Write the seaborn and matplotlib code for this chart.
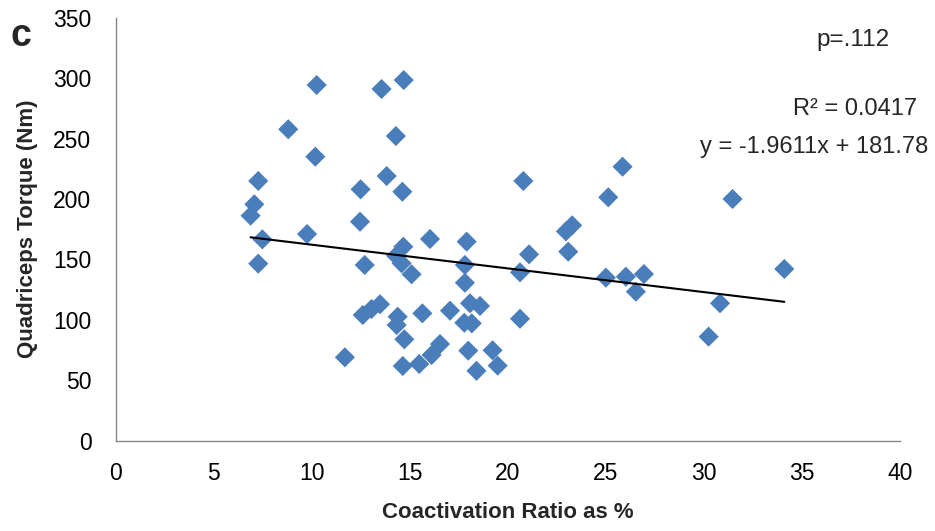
import numpy as np
import pandas as pd
import matplotlib
matplotlib.use("Agg")
import matplotlib.pyplot as plt
import seaborn as sns

# ---- data ----
coactivation = [6.88, 7.07, 7.27, 7.48, 7.27, 8.80, 9.76, 10.18, 10.25, 11.69,
                12.46, 12.49, 12.60, 12.70, 13.05, 13.48, 13.56, 13.82, 14.29, 14.69,
                14.62, 14.67, 14.30, 14.58, 14.38, 14.33, 14.72, 14.64, 15.09, 15.48,
                15.64, 16.03, 16.11, 16.54, 17.05, 17.90, 17.81, 17.81, 17.78, 18.16,
                18.07, 18.58, 17.98, 18.40, 19.22, 19.48, 20.62, 20.62, 20.79, 21.08,
                22.96, 23.28, 23.08, 25.00, 25.12, 25.85, 26.02, 26.53, 26.94, 30.24,
                30.82, 31.46, 34.10]
torque = [186.2, 195.6, 214.9, 166.6, 146.5, 257.7, 171.0, 235.0, 294.3, 69.0,
          181.2, 208.0, 104.0, 145.4, 109.0, 112.9, 291.0, 219.0, 252.1, 298.4,
          206.0, 160.5, 153.0, 146.8, 102.6, 95.7, 83.9, 61.8, 137.7, 63.5,
          105.4, 166.9, 70.9, 80.0, 107.6, 164.7, 145.4, 130.7, 97.6, 97.1,
          113.7, 111.5, 74.5, 57.8, 74.8, 62.1, 139.3, 100.9, 214.9, 154.2,
          173.2, 178.2, 156.4, 134.9, 201.4, 226.7, 135.7, 123.3, 137.9, 86.1,
          113.7, 200.0, 142.1]
slope = -1.9611
intercept = 181.78
r_squared_text = "R\u00b2 = 0.0417"
equation_text = "y = -1.9611x + 181.78"
p_text = "p=.112"
panel_label = "c"
x_ticks = [0, 5, 10, 15, 20, 25, 30, 35, 40]
y_ticks = [0, 50, 100, 150, 200, 250, 300, 350]
x_label = "Coactivation Ratio as %"
y_label = "Quadriceps Torque (Nm)"

# ---- style ----
sns.set_theme(style="white")
plt.rcParams['font.family'] = ['Liberation Sans', 'DejaVu Sans']

W, H = 935, 531
fig = plt.figure(figsize=(W / 100, H / 100), dpi=100)
left, right, top, bottom = 115.7, 900.0, 17.7, 440.7
ax = fig.add_axes([left / W, 1 - bottom / H, (right - left) / W, (bottom - top) / H])

df = pd.DataFrame({"x": coactivation, "y": torque})
sns.scatterplot(data=df, x="x", y="y", marker="D", s=105, color="#4A7EBB",
                edgecolor="none", linewidth=0, ax=ax, zorder=3, legend=False)

xr = np.array([min(coactivation), max(coactivation)])
fit = pd.DataFrame({"x": xr, "y": slope * xr + intercept})
sns.lineplot(data=fit, x="x", y="y", color="black", linewidth=1.5, ax=ax, zorder=4)

ax.set_xlim(0, 40)
ax.set_ylim(0, 350)
ax.set_xticks(x_ticks)
ax.set_yticks(y_ticks)
ax.set_xticklabels([str(t) for t in x_ticks])
ax.set_yticklabels([str(t) for t in y_ticks])

for s in ["top", "right"]:
    ax.spines[s].set_visible(False)
for s in ["left", "bottom"]:
    ax.spines[s].set_color("#868686")
    ax.spines[s].set_linewidth(1.0)
ax.tick_params(axis="both", direction="out", length=5.5, width=1.0,
               color="#868686", labelsize=16.5, labelcolor="black")
ax.tick_params(axis="y", pad=12)
ax.tick_params(axis="x", pad=10)
ax.grid(False)

ax.set_xlabel(x_label, fontsize=16, fontweight="bold", va="center")
ax.set_ylabel(y_label, fontsize=16, fontweight="bold", va="center")
ax.xaxis.set_label_coords(0.5, (bottom - 512) / (bottom - top))
ax.yaxis.set_label_coords((28 - left) / (right - left), 0.5)

def ftext(px, py, s, **kw):
    fig.text(px / W, 1 - py / H, s, **kw)

ftext(853, 46, p_text, fontsize=17.5, ha="center", va="baseline")
ftext(917, 115, r_squared_text, fontsize=17, ha="right", va="baseline")
ftext(928, 153, equation_text, fontsize=17, ha="right", va="baseline")
ftext(11, 46, panel_label, fontsize=27, fontweight="bold", ha="left", va="baseline")

fig.savefig("out.png", dpi=100)
